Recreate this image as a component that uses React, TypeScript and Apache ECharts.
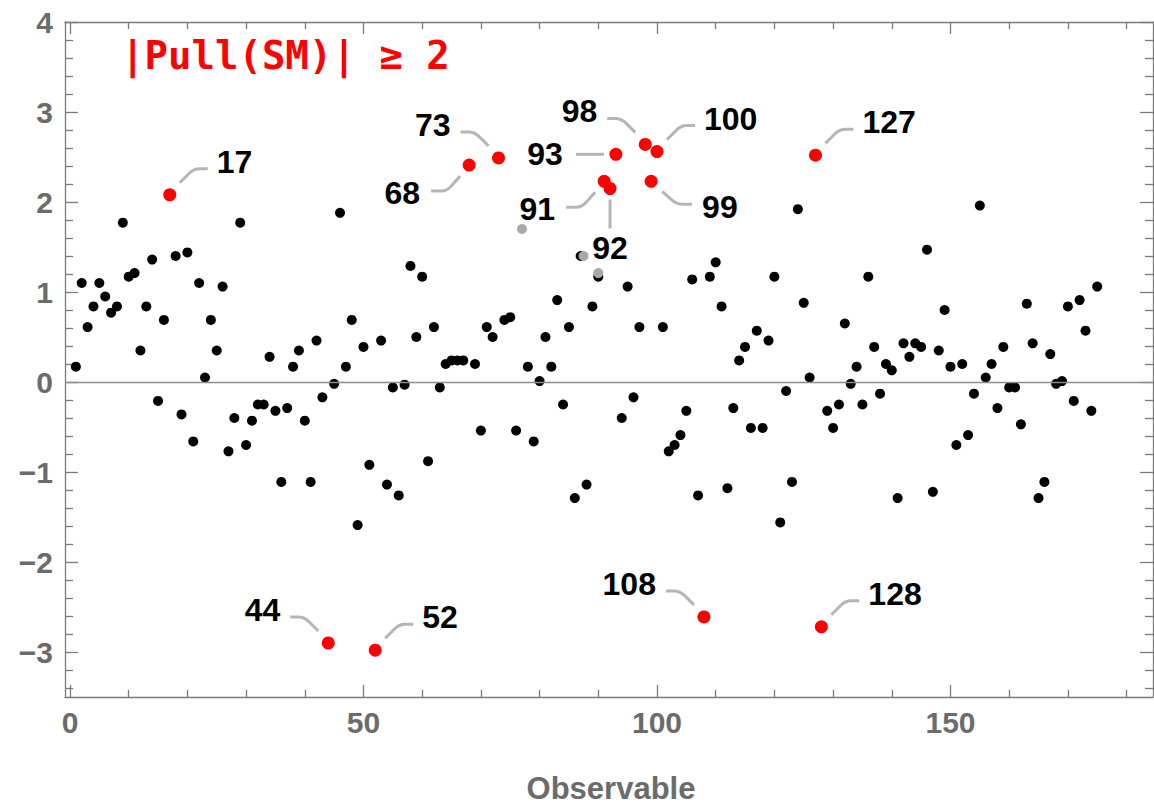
import React, { useEffect, useRef } from "react";
import * as echarts from "echarts";

// Pull(SM) per observable, observables 1..175
const pullValues: number[] = [
  0.17, 1.10, 0.61, 0.84, 1.10, 0.95, 0.77, 0.84, 1.77, 1.17,
  1.21, 0.35, 0.84, 1.36, -0.21, 0.69, 2.08, 1.40, -0.36, 1.44,
  -0.66, 1.10, 0.05, 0.69, 0.35, 1.06, -0.77, -0.40, 1.77, -0.70,
  -0.43, -0.25, -0.25, 0.28, -0.32, -1.11, -0.29, 0.17, 0.35, -0.43,
  -1.11, 0.46, -0.17, -2.90, -0.02, 1.88, 0.17, 0.69, -1.59, 0.39,
  -0.92, -2.98, 0.46, -1.14, -0.06, -1.26, -0.03, 1.29, 0.50, 1.17,
  -0.88, 0.61, -0.06, 0.20, 0.24, 0.24, 0.24, 2.41, 0.20, -0.54,
  0.61, 0.50, 2.49, 0.69, 0.72, -0.54, 1.70, 0.17, -0.66, 0.01,
  0.50, 0.17, 0.91, -0.25, 0.61, -1.29, 1.40, -1.14, 0.84, 1.17,
  2.23, 2.15, 2.53, -0.40, 1.06, -0.17, 0.61, 2.64, 2.23, 2.56,
  0.61, -0.77, -0.70, -0.59, -0.32, 1.14, -1.26, -2.61, 1.17, 1.33,
  0.84, -1.18, -0.29, 0.24, 0.39, -0.51, 0.57, -0.51, 0.46, 1.17,
  -1.56, -0.10, -1.11, 1.92, 0.88, 0.05, 2.52, -2.72, -0.32, -0.51,
  -0.25, 0.65, -0.02, 0.17, -0.25, 1.17, 0.39, -0.13, 0.20, 0.13,
  -1.29, 0.43, 0.28, 0.43, 0.39, 1.47, -1.22, 0.35, 0.80, 0.17,
  -0.70, 0.20, -0.59, -0.13, 1.96, 0.05, 0.20, -0.29, 0.39, -0.06,
  -0.06, -0.47, 0.87, 0.43, -1.29, -1.11, 0.31, -0.02, 0.01, 0.84,
  -0.21, 0.91, 0.57, -0.32, 1.06,
];

// observables with |Pull(SM)| >= 2 and the side of their callout
const flaggedObs: number[] = [17, 44, 52, 68, 73, 91, 92, 93, 98, 99, 100, 108, 127, 128];
const flaggedDirs: string[] = ["NE", "NW", "NE", "SW", "NW", "SW", "S", "W", "NW", "SE", "NE", "NW", "NE", "NE"];

// gray (secondary) marks
const grayOnlyObs: number[] = [77];
const grayX: number[] = [77, 87.5, 90];
const grayY: number[] = [1.70, 1.40, 1.21];

const xMajorTicks: number[] = [0, 50, 100, 150];
const xMinorTicks: number[] = [10, 20, 30, 40, 60, 70, 80, 90, 110, 120, 130, 140, 160, 170, 180];
const yMajorTicks: number[] = [-3, -2, -1, 0, 1, 2, 3, 4];
const yMinorTicks: number[] = [
  -3.4, -3.2, -2.8, -2.6, -2.4, -2.2, -1.8, -1.6, -1.4, -1.2, -0.8, -0.6, -0.4, -0.2,
  0.2, 0.4, 0.6, 0.8, 1.2, 1.4, 1.6, 1.8, 2.2, 2.4, 2.6, 2.8, 3.2, 3.4, 3.6, 3.8,
];

const titleText = "|Pull(SM)| ≥ 2";
const xAxisTitle = "Observable";

const CALLOUT: Record<string, { path: string; tx: number; ty: number; align: string }> = {
  NE: { path: "M 10 -12 L 19 -21 Q 24 -26 30 -26 L 38 -26", tx: 47, ty: -33, align: "left" },
  NW: { path: "M -10 -12 L -19 -21 Q -24 -26 -30 -26 L -38 -26", tx: -48, ty: -33, align: "right" },
  SW: { path: "M -9 11 L -17 20 Q -22 26 -28 26 L -38 26", tx: -49, ty: 28, align: "right" },
  SE: { path: "M 11 10 L 20 18 Q 25 23 31 23 L 41 23", tx: 51, ty: 26, align: "left" },
  W: { path: "M -12 0 L -40 0", tx: -53, ty: 0, align: "right" },
  S: { path: "M 0 11 L 0 40", tx: 0, ty: 59, align: "center" },
};

const FRAME = "#7a7a7a";
const LABEL_GRAY = "#6b6b6b";
const SANS = '"Liberation Sans", Arial, Helvetica, sans-serif';

export default function App() {
  const ref = useRef<HTMLDivElement>(null);

  useEffect(() => {
    if (!ref.current) return;
    const chart = echarts.init(ref.current, null, { renderer: "svg" });

    const blackData: number[][] = [];
    pullValues.forEach((v, i) => {
      const obs = i + 1;
      if (flaggedObs.includes(obs) || grayOnlyObs.includes(obs)) return;
      blackData.push([obs, v]);
    });
    const redData = flaggedObs.map((o) => [o, pullValues[o - 1]]);
    const grayData = grayX.map((x, i) => [x, grayY[i]]);

    const X_MIN = -0.85;
    const X_MAX = 184.5;
    const Y_MIN = -3.5;
    const Y_MAX = 4;

    const mkX = (pos: string, ticks: number[], len: number, showLine: boolean, labels: boolean) => ({
      type: "value",
      position: pos,
      min: X_MIN,
      max: X_MAX,
      axisLine: { show: showLine, onZero: false, lineStyle: { color: FRAME, width: 1.3 } },
      axisTick: { show: true, inside: true, length: len, customValues: ticks, lineStyle: { color: FRAME, width: 1.3 } },
      axisLabel: labels
        ? { show: true, customValues: ticks, color: LABEL_GRAY, fontWeight: "bold", fontSize: 30, fontFamily: SANS, margin: 10 }
        : { show: false },
      splitLine: { show: false },
    });
    const mkY = (pos: string, ticks: number[], len: number, showLine: boolean, labels: boolean) => ({
      type: "value",
      position: pos,
      min: Y_MIN,
      max: Y_MAX,
      axisLine: { show: showLine, onZero: false, lineStyle: { color: FRAME, width: 1.3 } },
      axisTick: { show: true, inside: true, length: len, customValues: ticks, lineStyle: { color: FRAME, width: 1.3 } },
      axisLabel: labels
        ? {
            show: true,
            customValues: ticks,
            color: LABEL_GRAY,
            fontWeight: "bold",
            fontSize: 30,
            fontFamily: SANS,
            margin: 12,
            formatter: (v: number) => String(v).replace("-", "\u2212"),
          }
        : { show: false },
      splitLine: { show: false },
    });

    chart.setOption({
      animation: false,
      backgroundColor: "#ffffff",
      grid: { left: 65, right: 1, top: 22, bottom: 109 },
      xAxis: [
        mkX("bottom", xMajorTicks, 12, true, true),
        mkX("bottom", xMinorTicks, 7, false, false),
        mkX("top", xMajorTicks, 12, true, false),
        mkX("top", xMinorTicks, 7, false, false),
      ],
      yAxis: [
        mkY("left", yMajorTicks, 13, true, true),
        mkY("left", yMinorTicks, 8, false, false),
        mkY("right", yMajorTicks, 13, true, false),
        mkY("right", yMinorTicks, 8, false, false),
      ],
      graphic: [
        {
          type: "text",
          left: 121,
          top: 36,
          style: {
            text: titleText,
            fill: "#ff0000",
            font: 'bold 39px "DejaVu Sans Mono", monospace',
          },
        },
        {
          type: "text",
          x: 611,
          y: 788,
          style: {
            text: xAxisTitle,
            fill: LABEL_GRAY,
            font: `bold 31px ${SANS}`,
            align: "center",
            verticalAlign: "middle",
          },
        },
      ],
      series: [
        {
          type: "scatter",
          xAxisIndex: 0,
          yAxisIndex: 0,
          data: blackData,
          symbolSize: 10,
          itemStyle: { color: "#000000", opacity: 1 },
          z: 3,
          markLine: {
            silent: true,
            symbol: ["none", "none"],
            label: { show: false },
            lineStyle: { color: "#8c8c8c", width: 1.3, type: "solid" },
            data: [{ yAxis: 0 }],
          },
        },
        {
          type: "scatter",
          xAxisIndex: 0,
          yAxisIndex: 0,
          data: grayData,
          symbolSize: 10,
          itemStyle: { color: "#a8a8a8", opacity: 1 },
          z: 4,
        },
        {
          type: "scatter",
          xAxisIndex: 0,
          yAxisIndex: 0,
          data: redData,
          symbolSize: 13,
          itemStyle: { color: "#ff0000", opacity: 1 },
          z: 5,
        },
        {
          type: "custom",
          xAxisIndex: 0,
          yAxisIndex: 0,
          data: redData,
          z: 6,
          renderItem: (params: any, api: any) => {
            const i = params.dataIndex;
            const p = api.coord([api.value(0), api.value(1)]);
            const d = CALLOUT[flaggedDirs[i]];
            return {
              type: "group",
              x: p[0],
              y: p[1],
              children: [
                {
                  type: "path",
                  shape: { pathData: d.path },
                  style: { stroke: "#b5b5b5", lineWidth: 3, fill: "none" },
                },
                {
                  type: "text",
                  x: d.tx,
                  y: d.ty,
                  style: {
                    text: String(flaggedObs[i]),
                    fill: "#000000",
                    font: `bold 32px ${SANS}`,
                    align: d.align,
                    verticalAlign: "middle",
                  },
                },
              ],
            };
          },
        },
      ],
    });

    return () => chart.dispose();
  }, []);

  return (
    <div
      ref={ref}
      style={{ position: "fixed", left: 0, top: 0, width: 1154, height: 806, background: "#fff" }}
    />
  );
}
